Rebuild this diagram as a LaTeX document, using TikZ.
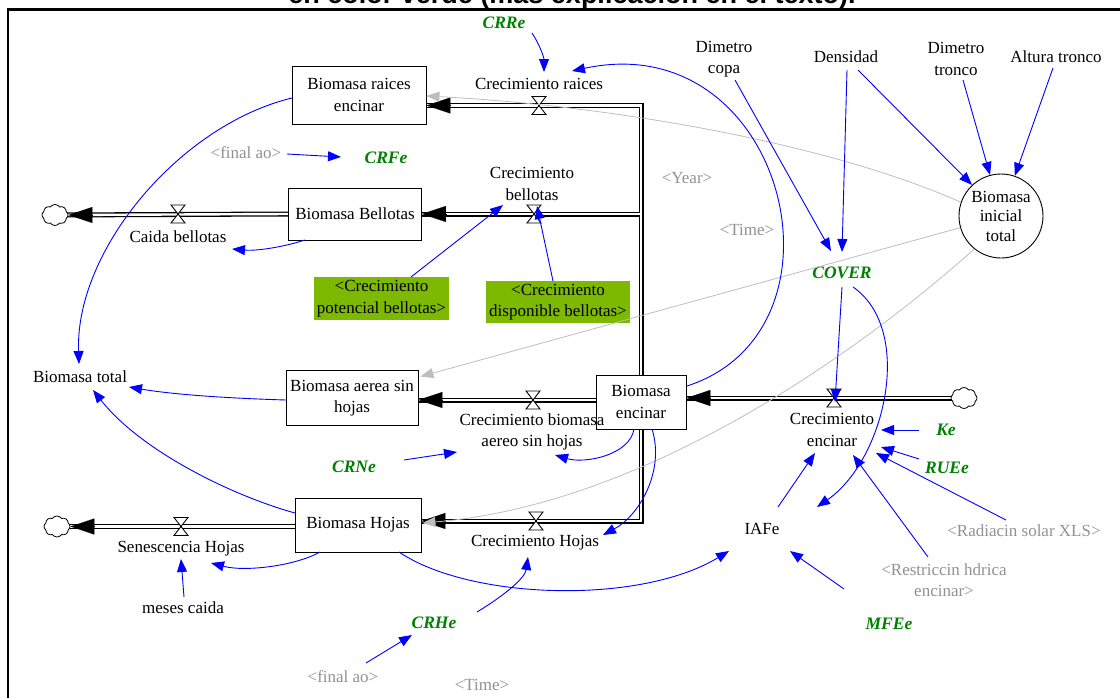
\documentclass[tikz,border=0pt]{standalone}
\usepackage{fontspec}
\setmainfont{Liberation Serif}
\newfontfamily\headfont{Liberation Sans}
\usetikzlibrary{arrows.meta,shapes.symbols,calc}
\definecolor{vgreen}{RGB}{0,128,0}
\definecolor{vgrey}{RGB}{145,145,145}
\definecolor{lgrey}{RGB}{190,190,190}
\definecolor{boxgreen}{RGB}{125,185,0}
\newcommand\pipepaths[1]{%
  \draw[#1] (sEncinar.north) -- (cTop) -- ($(sRaices.east)+(0,10.5)$);
  \draw[#1] (jBell) -- (sBellotas.east);
  \draw[#1] ($(sEncinar.west)+(0,-2)$) -- ($(sAerea.east)+(0,2)$);
  \draw[#1] (sEncinar.south) -- (cBot) -- ($(sHojas.east)+(0,-4)$);
  \draw[#1] (clR) -- ($(sEncinar.east)+(0,-4)$);
  \draw[#1] (sBellotas.west) -- (clL1);
  \draw[#1] ($(sHojas.west)+(0,1.5)$) -- (clL2);
}
\begin{document}
\begin{tikzpicture}[x=1pt,y=-1pt, font=\fontsize{17}{21.5}\selectfont,
  stock/.style={draw, fill=white, line width=0.9pt, align=center, inner sep=0pt},
  lab/.style={align=center, inner sep=0pt},
  glab/.style={lab, text=vgreen, font=\fontsize{17.5}{21.5}\selectfont\bfseries\itshape},
  ylab/.style={lab, text=vgrey},
  gbox/.style={fill=boxgreen, align=center, inner sep=0pt},
  inf/.style={blue, line width=0.9pt, -{Triangle[length=13pt,width=10pt]}},
  ginf/.style={lgrey, line width=0.8pt, -{Triangle[length=13pt,width=10pt]}},
  pipeO/.style={line width=5pt, black, line join=miter},
  pipeI/.style={line width=2.4pt, white, line join=miter},
  phead/.style={line width=0.1pt, -{Triangle[length=24pt,width=16pt]}},
  valve/.pic={\draw[fill=white, line width=0.9pt, line join=miter] (-7,-9) -- (7,-9) -- (-7,9) -- (7,9) -- cycle;},
  cloudn/.style={cloud, draw, fill=white, cloud puffs=8, cloud puff arc=110, minimum width=26pt, minimum height=21pt, inner sep=0pt, line width=0.8pt}
]
\useasboundingbox (0,0) rectangle (1120,697);
% frame and cut title
\draw[line width=2.5pt] (8,720) -- (8,9.5) -- (1140,9.5);
\node[anchor=base, inner sep=0pt, font=\headfont\bfseries\fontsize{27}{31}\selectfont] (title) at (572,3.5) {en color verde (más explicación en el texto).};

% stocks
\node[stock, minimum width=134pt, minimum height=58pt] (sRaices) at (359,95) {Biomasa raices\\encinar};
\node[stock, minimum width=133pt, minimum height=52pt] (sBellotas) at (355,214) {Biomasa Bellotas};
\node[stock, minimum width=132pt, minimum height=55pt] (sAerea) at (352,398) {Biomasa aerea sin\\hojas};
\node[stock, minimum width=126pt, minimum height=54pt] (sHojas) at (358,525) {Biomasa Hojas};
\node[stock, minimum width=90pt, minimum height=54pt] (sEncinar) at (641,402) {Biomasa\\encinar};

% coordinates of pipes and valves
\coordinate (cTop) at (641,105.5);
\coordinate (jBell) at (641,214);
\coordinate (cBot) at (641,521);
\coordinate (clR) at (964,398);
\coordinate (clL1) at (55,215);
\coordinate (clL2) at (57,526.5);
\coordinate (vRaices) at (539,105.5);
\coordinate (vBell) at (534,214);
\coordinate (vAerea) at (533,400);
\coordinate (vHojas) at (536,521);
\coordinate (vCaida) at (178,214);
\coordinate (vSenes) at (181,526.5);
\coordinate (vEnc) at (834,398);

% pipes
\pipepaths{pipeO}
\pipepaths{pipeI}
\draw[phead] ($(sRaices.east)+(24,10.5)$) -- ($(sRaices.east)+(0,10.5)$);
\draw[phead] ($(sBellotas.east)+(24,0)$) -- (sBellotas.east);
\draw[phead] ($(sAerea.east)+(24,2)$) -- ($(sAerea.east)+(0,2)$);
\draw[phead] ($(sHojas.east)+(24,-4)$) -- ($(sHojas.east)+(0,-4)$);
\draw[phead] ($(sEncinar.east)+(24,-4)$) -- ($(sEncinar.east)+(0,-4)$);
\node[cloudn] (cloudR) at (clR) {};
\node[cloudn] (cloudL1) at (clL1) {};
\node[cloudn] (cloudL2) at (clL2) {};
\draw[phead] ($(cloudL1.east)+(24,0)$) -- (cloudL1.east);
\draw[phead] ($(cloudL2.east)+(24,0)$) -- (cloudL2.east);

% redraw stocks on top of pipes
\node[stock, minimum width=134pt, minimum height=58pt] at (sRaices) {Biomasa raices\\encinar};
\node[stock, minimum width=133pt, minimum height=52pt] at (sBellotas) {Biomasa Bellotas};
\node[stock, minimum width=132pt, minimum height=55pt] at (sAerea) {Biomasa aerea sin\\hojas};
\node[stock, minimum width=126pt, minimum height=54pt] at (sHojas) {Biomasa Hojas};
\node[stock, minimum width=90pt, minimum height=54pt] at (sEncinar) {Biomasa\\encinar};

% valves
\foreach \v in {vRaices,vBell,vAerea,vHojas,vCaida,vSenes,vEnc} {\pic at (\v) {valve};}

% circle
\node[draw, circle, line width=0.9pt, minimum size=84pt, inner sep=0pt, align=center, font=\fontsize{17}{19.5}\selectfont] (cInicial) at (1001,216) {Biomasa\\inicial\\total};

% labels
\node[lab] (lCrRaices) at (539,84) {Crecimiento raices};
\node[lab] (lCrBellotas) at (532,184) {Crecimiento\\bellotas};
\node[lab] (lCrAerea) at (532,432) {Crecimiento biomasa\\aereo sin hojas};
\node[lab] (lCrHojas) at (535,543) {Crecimiento Hojas};
\node[lab] (lCaida) at (178,237) {Caida bellotas};
\node[lab] (lSenes) at (181,549) {Senescencia Hojas};
\node[lab] (lCrEncinar) at (832,430) {Crecimiento\\encinar};
\node[lab] (lBTotal) at (80,377) {Biomasa total};
\node[lab] (lDCopa) at (724,59) {Dimetro\\copa};
\node[lab] (lDens) at (846,57) {Densidad};
\node[lab] (lDTronco) at (956,59) {Dimetro\\tronco};
\node[lab] (lAltura) at (1056,57) {Altura tronco};
\node[lab] (lIAFe) at (762,529) {IAFe};
\node[lab] (lMeses) at (183,608) {meses caida};

\node[glab] (gCRRe) at (504,23) {CRRe};
\node[glab] (gCRFe) at (386,158) {CRFe};
\node[glab] (gCOVER) at (842,273) {COVER};
\node[glab] (gKe) at (946,430) {Ke};
\node[glab] (gRUEe) at (947,468) {RUEe};
\node[glab] (gCRNe) at (354,467) {CRNe};
\node[glab] (gCRHe) at (434,623) {CRHe};
\node[glab] (gMFEe) at (889,624) {MFEe};

\node[ylab] (yFinal1) at (246,153) {<final ao>};
\node[ylab] (yYear) at (687,178) {<Year>};
\node[ylab] (yTime1) at (747,230) {<Time>};
\node[ylab] (yRad) at (1024,531) {<Radiacin solar XLS>};
\node[ylab] (yRestr) at (944,580) {<Restriccin hdrica\\encinar>};
\node[ylab] (yFinal2) at (343,677) {<final ao>};
\node[ylab] (yTime2) at (482,685) {<Time>};

\node[gbox, minimum width=135pt, minimum height=43pt] (bPot) at (381.5,298.5) {<Crecimiento\\potencial bellotas>};
\node[gbox, minimum width=144pt, minimum height=42pt] (bDisp) at (558,302) {<Crecimiento\\disponible bellotas>};

% grey links
\draw[ginf] (cInicial.161) .. controls (820,140) and (600,105) .. ($(sRaices.east)+(0,1)$);
\draw[ginf] (cInicial.196) -- ($(sAerea.north east)+(2,6.5)$);
\draw[ginf] (cInicial.231.5) .. controls (850,360) and (640,505) .. ($(sHojas.east)+(1,-2)$);

% blue links
\draw[inf] ($(gCRRe)+(28,10)$) .. controls (540,45) and (544,58) .. ($(lCrRaices)+(5,-12)$);
\draw[inf] ($(sEncinar)+(46,-16)$) .. controls (860,330) and (785,25) .. ($(lCrRaices)+(33,-13)$);
\draw[inf] ($(lDens)+(1,13)$) -- ($(gCOVER)+(0,-21)$);
\draw[inf] ($(lDCopa)+(11,21)$) -- ($(gCOVER)+(-11,-22)$);
\draw[inf] ($(lDens)+(12,13)$) -- (cInicial.133);
\draw[inf] ($(lDTronco)+(7,21)$) -- (cInicial.105);
\draw[inf] ($(lAltura)+(-3,11)$) -- (cInicial.71);
\draw[inf] ($(gCOVER)+(0,14)$) -- ($(vEnc)+(1,4)$);
\draw[inf] ($(gCOVER)+(11,14)$) .. controls (915,330) and (885,460) .. ($(lIAFe)+(55,-22)$);
\draw[inf] ($(gKe)+(-27,0)$) -- ($(lCrEncinar)+(49,0)$);
\draw[inf] ($(gRUEe)+(-28,-9)$) -- ($(lCrEncinar)+(49,17)$);
\draw[inf] ($(yRad)+(-18,-11)$) -- ($(lCrEncinar)+(44,23)$);
\draw[inf] ($(yRestr)+(-16,-23)$) -- ($(lCrEncinar)+(21,25)$);
\draw[inf] ($(lIAFe)+(16,-22)$) -- ($(lCrEncinar)+(-17,23)$);
\draw[inf] ($(gMFEe)+(-45,-35)$) -- ($(lIAFe)+(28,22)$);
\draw[inf] ($(sHojas)+(41,27)$) .. controls (470,600) and (640,605) .. ($(lIAFe)+(-33,22)$);
\draw[inf] ($(sHojas)+(-38,27)$) .. controls (295,566) and (245,572) .. ($(lSenes)+(30,14)$);
\draw[inf] ($(lMeses)+(1,-11)$) -- ($(lSenes)+(0,10)$);
\draw[inf] ($(gCRHe)+(43,-11)$) .. controls (505,595) and (525,578) .. ($(lCrHojas)+(-7,14)$);
\draw[inf] ($(yFinal2)+(23,-14)$) -- ($(gCRHe)+(-22,12)$);
\draw[inf] ($(yFinal1)+(41,1)$) -- ($(gCRFe)+(-45,-1)$);
\draw[inf] ($(gCRNe)+(50,-7)$) -- ($(lCrAerea)+(-75,20)$);
\draw[inf] ($(sEncinar)+(-7,27)$) .. controls (630,455) and (585,464) .. ($(lCrAerea)+(23,23)$);
\draw[inf] ($(sEncinar)+(11,27)$) .. controls (665,470) and (640,515) .. ($(lCrHojas)+(68,-8)$);
\draw[inf] ($(sRaices)+(-67,3)$) .. controls (180,125) and (75,250) .. ($(lBTotal)+(-1,-13)$);
\draw[inf] ($(sAerea)+(-66,2)$) .. controls (220,398) and (170,394) .. ($(lBTotal)+(49,10)$);
\draw[inf] ($(sHojas)+(-63,-12)$) .. controls (230,495) and (140,450) .. ($(lBTotal)+(13,13)$);
\draw[inf] ($(sBellotas)+(-50,26)$) .. controls (280,248) and (255,251) .. ($(lCaida)+(54,12)$);
\draw[inf] ($(bPot)+(29.5,-21.5)$) -- ($(lCrBellotas)+(-29,21)$);
\draw[inf] ($(bDisp)+(-5,-21)$) -- ($(vBell)+(3,-8)$);
\end{tikzpicture}
\end{document}
